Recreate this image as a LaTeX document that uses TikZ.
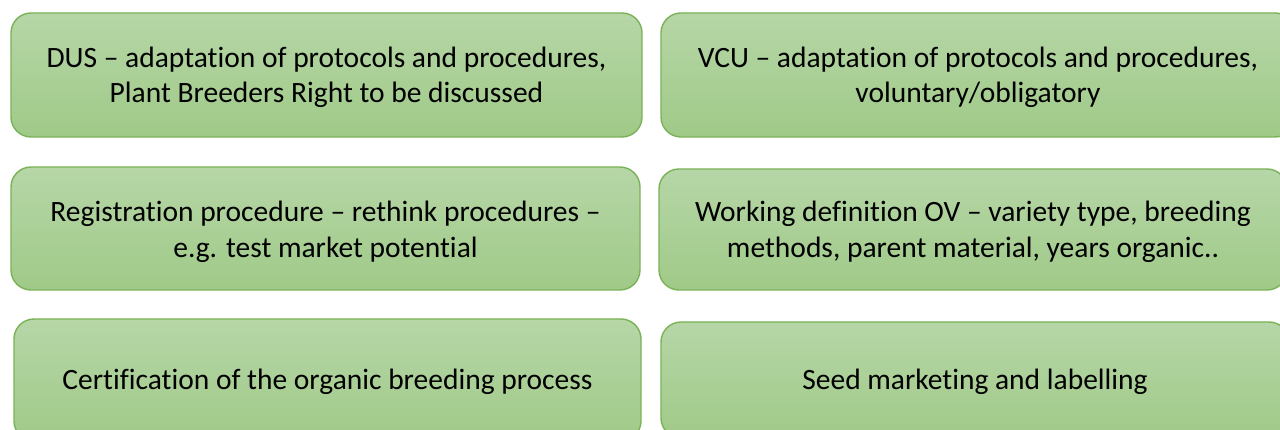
\documentclass[tikz,border=0pt]{standalone}
\usepackage{fontspec}
\setmainfont{Carlito}[RawFeature={-liga}]
\definecolor{cardline}{RGB}{122,178,88}
\definecolor{cardtop}{RGB}{182,214,167}
\definecolor{cardbottom}{RGB}{160,202,136}
\begin{document}
\begin{tikzpicture}[x=1pt,y=-1pt,
  card/.style={draw=cardline, line width=1.4pt, rounded corners=20pt,
    top color=cardtop, bottom color=cardbottom, inner sep=0pt},
  cardtext/.style={align=center, anchor=base, inner sep=0pt,
    font=\fontsize{29.5}{35.5}\selectfont}]
  \useasboundingbox (0,0) rectangle (1280,430);
  \clip (0,0) rectangle (1280,430);
  % green cards
  \node[card, minimum width=631pt, minimum height=124pt] (dus) at (326.5,75) {};
  \node[card, minimum width=634pt, minimum height=124pt] (vcu) at (978,75) {};
  \node[card, minimum width=629pt, minimum height=123pt] (reg) at (325.5,228.5) {};
  \node[card, minimum width=628pt, minimum height=121pt] (def) at (973,229.5) {};
  \node[card, minimum width=627pt, minimum height=122pt] (cert) at (327.5,380) {};
  \node[card, minimum width=628pt, minimum height=116pt] (seed) at (975,380) {};
  % card texts, placed by the baseline of their last line
  \node[cardtext] (dust) at (326.5,102.7)
    {DUS – adaptation of protocols and procedures,\\Plant Breeders Right to be discussed};
  \node[cardtext] (vcut) at (978,102.7)
    {VCU – adaptation of protocols and procedures,\\voluntary/obligatory};
  \node[cardtext] (regt) at (325.5,257.3)
    {Registration procedure – rethink procedures –\\e.g. test market potential};
  \node[cardtext] (deft) at (973,257.3)
    {Working definition OV – variety type, breeding\\methods, parent material, years organic..};
  \node[cardtext] (certt) at (327.5,389)
    {Certification of the organic breeding process};
  \node[cardtext] (seedt) at (975,389)
    {Seed marketing and labelling};
\end{tikzpicture}
\end{document}
